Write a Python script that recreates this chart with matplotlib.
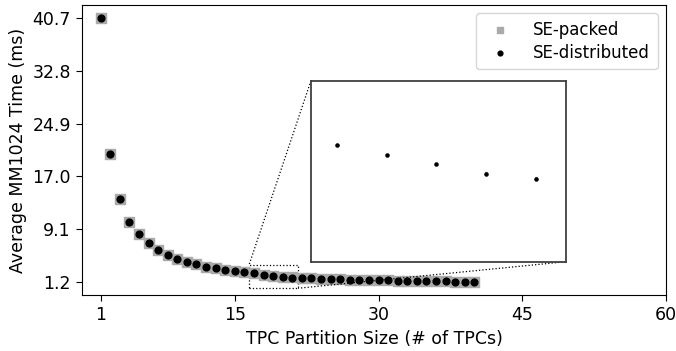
import matplotlib
matplotlib.use("Agg")
import matplotlib.pyplot as plt
import numpy as np
from mpl_toolkits.axes_grid1.inset_locator import mark_inset

# Particiones TPC y tiempos medios (ms)
tpcs = list(range(1, 41))
time_packed = [40.7, 20.4, 13.6, 10.2, 8.3, 6.95, 5.95, 5.2, 4.65, 4.2,
               3.8, 3.45, 3.2, 2.95, 2.8, 2.64, 2.49, 2.29, 2.11, 1.95,
               1.85, 1.78, 1.72, 1.66, 1.61, 1.57, 1.53, 1.49, 1.46, 1.43,
               1.40, 1.37, 1.35, 1.32, 1.30, 1.28, 1.26, 1.24, 1.22, 1.20]
time_distributed = [40.7, 20.4, 13.6, 10.2, 8.3, 6.95, 5.95, 5.2, 4.65, 4.2,
                    3.8, 3.45, 3.2, 2.95, 2.8, 2.64, 2.49, 2.29, 2.11, 1.93,
                    1.83, 1.77, 1.71, 1.66, 1.61, 1.57, 1.53, 1.49, 1.46, 1.43,
                    1.40, 1.37, 1.35, 1.32, 1.30, 1.28, 1.26, 1.24, 1.22, 1.20]
x_ticks = [1, 15, 30, 45, 60]
y_ticks = [1.2, 9.1, 17.0, 24.9, 32.8, 40.7]
zoom_tpcs = [17, 21]

fig = plt.figure(figsize=(6.76, 3.51), dpi=100)
ax = fig.add_axes([0.1213, 0.1595, 0.8639, 0.8263])

ax.scatter(tpcs, time_packed, marker="s", s=44, color="#aaaaaa", label="SE-packed", zorder=2)
ax.scatter(tpcs, time_distributed, marker="o", s=24, color="black", label="SE-distributed", zorder=3)

ax.set_xlim(-0.95, 60)
ax.set_xticks(x_ticks)
ax.set_yticks(y_ticks)
ax.set_yticklabels([f"{v:.1f}" for v in y_ticks])
ax.tick_params(labelsize=12.5, length=4.5)
ax.set_xlabel("TPC Partition Size (# of TPCs)", fontsize=12.5, labelpad=4)
ax.set_ylabel("Average MM1024 Time (ms)", fontsize=12.5)
ax.legend(loc="upper right", fontsize=12, markerscale=0.7, handletextpad=1.0,
          labelspacing=0.3, borderpad=0.45)

# Recuadro con zoom
axins = fig.add_axes([0.46, 0.2544, 0.3772, 0.5157])
axins.scatter(tpcs, time_packed, marker="s", s=3, color="#aaaaaa", zorder=2)
axins.scatter(tpcs, time_distributed, marker="o", s=5, color="black", zorder=3)
axins.set_xlim(zoom_tpcs[0] - 0.52, zoom_tpcs[1] + 0.6)
axins.set_ylim(0.24, 3.72)
axins.set_xticks([])
axins.set_yticks([])
for sp in axins.spines.values():
    sp.set_linewidth(1.3)
    sp.set_color("0.25")

mark_inset(ax, axins, loc1=2, loc2=4, fc="none", ec="black", ls=":", lw=0.9)

fig.savefig("out.png", dpi=100)
